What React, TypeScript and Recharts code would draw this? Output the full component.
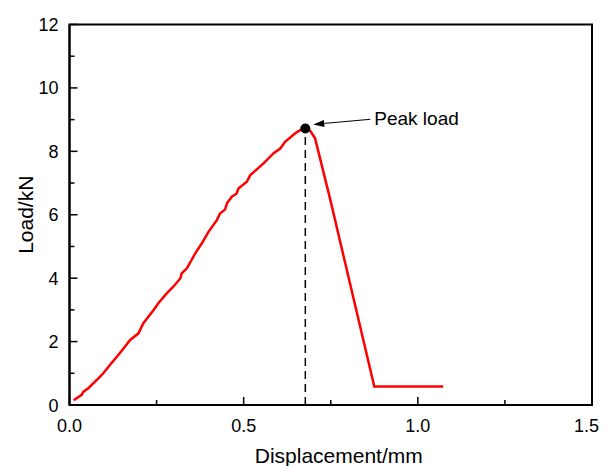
import React from 'react';
import { LineChart, Line, XAxis, YAxis, ReferenceLine, ReferenceDot, ReferenceArea } from 'recharts';

const displacement = [0.012, 0.035, 0.040, 0.054, 0.068, 0.083, 0.097, 0.116, 0.136, 0.159, 0.174, 0.198, 0.212, 0.241, 0.255, 0.279, 0.298, 0.318, 0.322, 0.337, 0.361, 0.380, 0.399, 0.423, 0.432, 0.447, 0.452, 0.466, 0.480, 0.485, 0.509, 0.519, 0.557, 0.586, 0.605, 0.619, 0.648, 0.662, 0.677, 0.691, 0.705, 0.749, 0.875, 1.033, 1.073];
const load = [0.15, 0.32, 0.42, 0.53, 0.68, 0.84, 1.00, 1.26, 1.52, 1.84, 2.05, 2.26, 2.58, 2.99, 3.21, 3.52, 3.73, 3.99, 4.15, 4.31, 4.78, 5.10, 5.46, 5.83, 6.04, 6.17, 6.36, 6.57, 6.67, 6.83, 7.04, 7.25, 7.62, 7.94, 8.09, 8.30, 8.57, 8.67, 8.69, 8.65, 8.41, 6.46, 0.58, 0.58, 0.58];

const xTicks = [0, 0.25, 0.5, 0.75, 1.0, 1.25, 1.5];
const xMajor = [0, 0.5, 1.0, 1.5];
const yTicks = [0, 1, 2, 3, 4, 5, 6, 7, 8, 9, 10, 11, 12];
const yMajor = [0, 2, 4, 6, 8, 10, 12];

const peakX = 0.677;
const peakY = 8.72;
const arrowFrom = { x: 0.8635, y: 9.01 };
const arrowTo = { x: 0.6997, y: 8.85 };
const annotationText = 'Peak load';

const data = displacement.map((d, i) => ({ d, load: load[i] }));

const FONT = '"Liberation Sans", Arial, sans-serif';

const XTick = (props: any) => {
  const { x, y, payload } = props;
  const major = xMajor.includes(payload.value);
  const isLast = payload.value === xTicks[xTicks.length - 1];
  return (
    <g>
      <line x1={x} y1={y} x2={x} y2={y - (major ? 8 : 5)} stroke="#000" strokeWidth={1.5} />
      {major && (
        <text
          x={isLast ? x + 7 : x}
          y={y + 27}
          textAnchor={isLast ? 'end' : 'middle'}
          fontSize={18}
          fontFamily={FONT}
          fill="#000"
        >
          {payload.value.toFixed(1)}
        </text>
      )}
    </g>
  );
};

const YTick = (props: any) => {
  const { x, y, payload } = props;
  const major = yMajor.includes(payload.value);
  return (
    <g>
      <line x1={x} y1={y} x2={x + (major ? 8 : 5)} y2={y} stroke="#000" strokeWidth={1.5} />
      {major && (
        <text x={x - 11} y={y + 6.5} textAnchor="end" fontSize={18} fontFamily={FONT} fill="#000">
          {payload.value}
        </text>
      )}
    </g>
  );
};

const ArrowShape = (props: any) => {
  const { x1, y1, x2, y2 } = props;
  const ang = Math.atan2(y2 - y1, x2 - x1);
  const len = 11;
  const w = 3.5;
  const bx = x2 - len * Math.cos(ang);
  const by = y2 - len * Math.sin(ang);
  const px = -Math.sin(ang) * w;
  const py = Math.cos(ang) * w;
  return (
    <g>
      <line x1={x1} y1={y1} x2={bx} y2={by} stroke="#000" strokeWidth={1} />
      <polygon points={`${x2},${y2} ${bx + px},${by + py} ${bx - px},${by - py}`} fill="#000" />
      <text x={x1 + 4} y={y1 + 6} fontSize={19} fontFamily={FONT} fill="#000">
        {annotationText}
      </text>
    </g>
  );
};

export default function App() {
  return (
    <div style={{ width: 592, height: 458 }}>
      <LineChart
        width={600}
        height={458}
        data={data}
        margin={{ top: 16.5, right: 16, left: 60.5, bottom: 60 }}
      >
        <ReferenceArea x1={0} x2={1.5} y1={0} y2={12} fill="none" stroke="#000" strokeWidth={2} fillOpacity={0} />
        <XAxis
          type="number"
          dataKey="d"
          domain={[0, 1.5]}
          ticks={xTicks}
          interval={0}
          height={1}
          tickSize={0}
          tickMargin={0}
          tickLine={false}
          axisLine={{ stroke: '#000', strokeWidth: 2 }}
          tick={<XTick />}
          label={(p: any) => {
            const vb = p.viewBox || {};
            return (
              <text x={vb.x + vb.width / 2 + 8} y={vb.y + 58} textAnchor="middle" fontSize={21} fontFamily={FONT} fill="#000">
                Displacement/mm
              </text>
            );
          }}
        />
        <YAxis
          type="number"
          domain={[0, 12]}
          ticks={yTicks}
          interval={0}
          width={1}
          tickSize={0}
          tickMargin={0}
          tickLine={false}
          axisLine={{ stroke: '#000', strokeWidth: 2 }}
          tick={<YTick />}
          label={(p: any) => {
            const vb = p.viewBox || {};
            const cx = vb.x + vb.width - 36.5;
            const cy = vb.y + vb.height / 2;
            return (
              <text x={cx} y={cy} transform={`rotate(-90 ${cx} ${cy})`} textAnchor="middle" fontSize={21} fontFamily={FONT} fill="#000">
                Load/kN
              </text>
            );
          }}
        />
        <Line
          type="linear"
          dataKey="load"
          stroke="#ff0000"
          strokeWidth={2.5}
          dot={false}
          isAnimationActive={false}
        />
        <ReferenceLine
          segment={[{ x: peakX, y: 0 }, { x: peakX, y: peakY }]}
          stroke="#000"
          strokeWidth={1.5}
          strokeDasharray="8 5"
        />
        <ReferenceLine
          segment={[arrowFrom, arrowTo]}
          stroke="#000"
          shape={<ArrowShape />}
        />
        <ReferenceDot x={peakX} y={peakY} r={5} fill="#000" stroke="none" />
      </LineChart>
    </div>
  );
}
